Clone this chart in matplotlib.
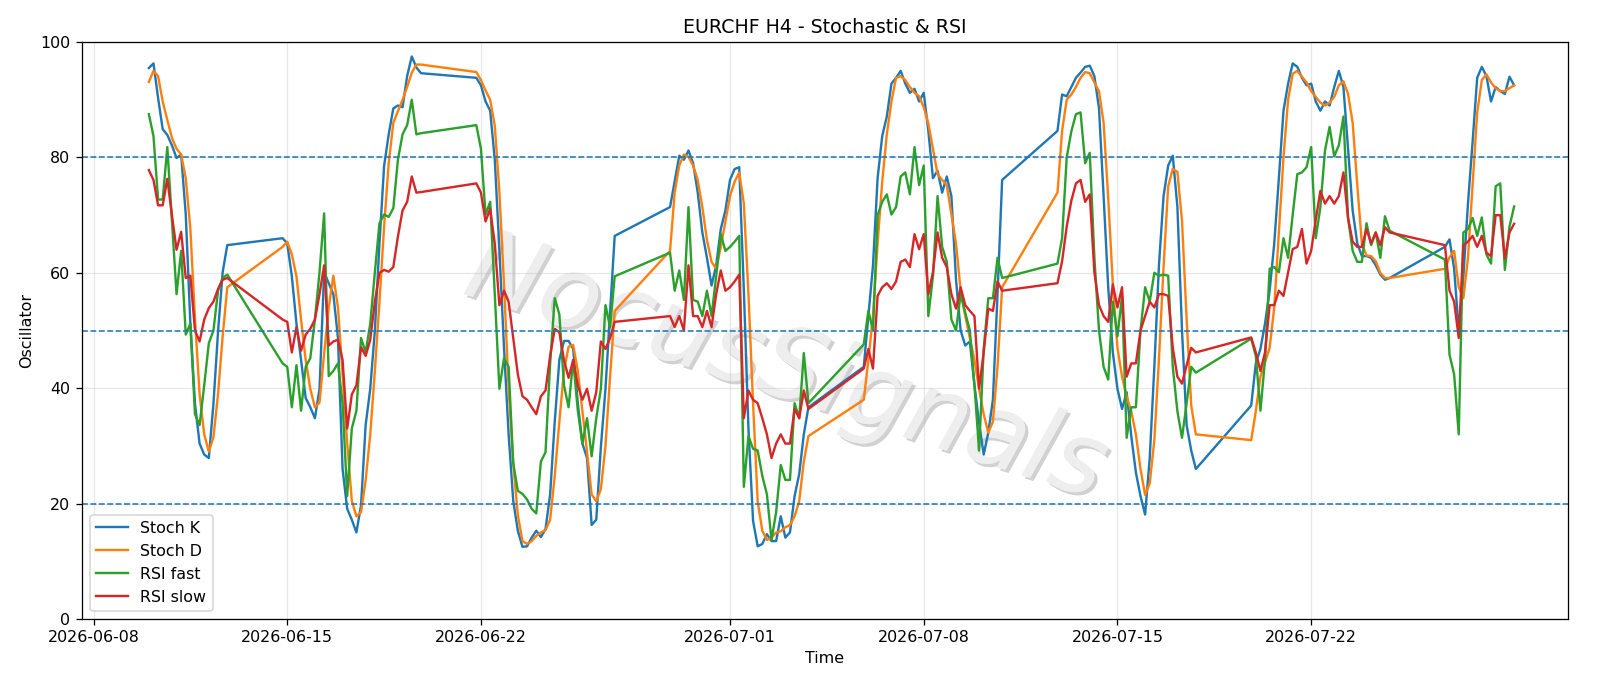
import numpy as np
import pandas as pd
import matplotlib
matplotlib.use("Agg")
import matplotlib.pyplot as plt
import matplotlib.patheffects as pe

# ---- data -----------------------------------------------------------
start_bar = "2026-06-10 00:00"
end_bar = "2026-07-29 08:00"

stoch_k = [
    95.5, 96.3, 90.3, 84.9, 83.9, 82.1,   # 06-10
    79.9, 80.5, 70.1, 51.2, 37.3, 30.4,   # 06-11
    28.5, 27.9, 37.3, 49.8, 60.1, 64.8,   # 06-12
    66.0,                                 # 06-14 20h
    65.1, 59.4, 51.2, 44.9, 38.3, 36.7,   # 06-15
    34.8, 39.9, 60.1, 58.2, 56.3, 48.7,   # 06-16
    26.0, 19.1, 17.2, 15.0, 19.7, 33.6,   # 06-17
    39.9, 50.0, 65.1, 78.5, 84.0, 88.5,   # 06-18
    89.0, 88.7, 94.1, 97.5, 95.6, 94.6,   # 06-19
    93.8,                                 # 06-21 20h
    92.5, 89.7, 88.1, 79.6, 64.0, 47.0,   # 06-22
    32.0, 20.5, 15.3, 12.5, 12.6, 14.1,   # 06-23
    15.3, 14.2, 15.6, 21.6, 34.2, 44.9,   # 06-24
    48.2, 48.2, 46.8, 37.4, 30.4, 27.9,   # 06-25
    16.3, 17.2, 29.8, 39.9, 53.1, 66.4,   # 06-26
    71.4,                                 # 06-28 20h
    75.8, 80.3, 79.6, 81.2, 79.0, 73.9,   # 06-29
    67.0, 62.6, 57.8, 61.3, 67.6, 70.8,   # 06-30
    76.1, 78.0, 78.3, 57.0, 33.0, 17.0,   # 07-01
    12.6, 13.0, 14.7, 13.5, 13.5, 17.8,   # 07-02
    14.1, 15.0, 21.3, 25.1, 32.0, 36.7,   # 07-03
    43.7,                                 # 07-05 20h
    52.5, 61.3, 76.4, 83.7, 87.1, 92.8,   # 07-06
    93.8, 95.0, 92.8, 91.2, 91.9, 89.7,   # 07-07
    91.2, 84.6, 76.4, 77.7, 73.9, 76.7,   # 07-08
    73.3, 58.8, 50.0, 47.4, 48.1, 40.5,   # 07-09
    34.0, 28.5, 32.3, 38.0, 56.3, 76.1,   # 07-10
    84.6,                                 # 07-12 20h
    90.9, 90.6, 92.2, 93.8, 94.7, 95.7,   # 07-13
    95.9, 94.1, 88.5, 73.3, 57.5, 46.2,   # 07-14
    39.9, 36.4, 39.3, 31.7, 25.4, 21.3,   # 07-15
    18.1, 27.9, 43.7, 61.3, 73.3, 78.6,   # 07-16
    80.3, 71.4, 50.0, 33.6, 29.2, 26.0,   # 07-17
    37.0,                                 # 07-19 20h
    44.3, 46.8, 51.2, 56.9, 65.1, 76.4,   # 07-20
    88.1, 92.8, 96.3, 95.7, 93.8, 92.5,   # 07-21
    92.8, 89.7, 88.1, 89.7, 89.0, 92.2,   # 07-22
    95.0, 92.2, 81.5, 70.8, 65.1, 62.9,   # 07-23
    62.9, 62.6, 61.3, 59.7, 58.8, 59.1,   # 07-24
    64.5,                                 # 07-26 20h
    65.8, 60.7, 50.0, 59.4, 72.0, 82.7,   # 07-27
    93.8, 95.7, 94.1, 89.7, 92.2, 91.5,   # 07-28
    91.0, 94.0, 92.5,                     # 07-29
]

stoch_d = [
    93.1, 95.0, 94.1, 89.7, 86.5, 83.4,
    81.5, 80.5, 76.4, 67.6, 52.0, 39.0,
    32.0, 29.0, 31.5, 39.0, 49.0, 57.5,
    64.5,
    65.4, 63.2, 59.4, 51.9, 44.9, 39.9,
    36.7, 37.5, 46.0, 54.0, 59.5, 54.0,
    42.5, 30.5, 20.5, 17.8, 18.5, 24.0,
    32.0, 43.0, 55.0, 68.0, 79.0, 86.0,
    88.0, 90.0, 92.2, 94.7, 96.1, 96.1,
    94.8,
    93.4, 91.6, 90.0, 85.5, 74.0, 58.0,
    40.0, 27.0, 18.0, 13.5, 13.0, 13.5,
    14.4, 15.0, 15.4, 17.2, 24.8, 34.2,
    43.0, 47.2, 47.5, 43.0, 36.0, 29.0,
    21.6, 20.4, 22.5, 30.0, 42.0, 53.4,
    63.8,
    73.9, 78.6, 80.5, 80.1, 78.6, 76.1,
    71.4, 65.7, 61.9, 60.7, 64.5, 68.9,
    73.3, 75.8, 77.4, 72.0, 56.3, 37.4,
    20.4, 15.3, 13.7, 14.1, 15.0, 15.2,
    15.9, 16.3, 17.8, 20.4, 27.3, 31.7,
    38.0,
    44.9, 52.5, 65.1, 75.8, 84.0, 89.7,
    93.8, 94.1, 93.4, 92.2, 91.2, 90.6,
    88.7, 85.9, 81.5, 77.1, 76.1, 75.2,
    70.1, 65.1, 56.9, 52.5, 48.7, 44.9,
    39.9, 35.5, 32.3, 34.2, 43.7, 57.5,
    73.9,
    84.6, 90.0, 90.9, 92.2, 93.8, 94.8,
    94.6, 93.0, 91.5, 86.0, 73.0, 58.0,
    47.0, 42.0, 38.5, 36.0, 32.0, 26.0,
    21.5, 23.5, 31.0, 45.0, 61.0, 75.0,
    78.0, 77.5, 69.0, 52.0, 37.0, 32.0,
    31.0,
    36.0, 42.0, 44.5, 47.0, 54.0, 67.0,
    80.0, 90.0, 94.5, 95.0, 94.0, 93.0,
    91.5, 90.5, 89.5, 89.0, 89.5, 90.5,
    92.5, 93.2, 91.0, 86.0, 75.2, 65.0,
    63.0, 62.9, 62.0, 60.0, 59.1, 59.1,
    60.7,
    62.7, 63.8, 57.5, 55.6, 62.6, 75.2,
    87.8, 93.4, 94.4, 93.0, 92.0, 91.5,
    91.5, 92.0, 92.5,
]

rsi_fast = [
    87.5, 83.7, 72.7, 72.7, 81.8, 69.0,
    56.3, 63.8, 49.3, 51.2, 35.5, 33.6,
    40.5, 47.8, 50.0, 56.9, 59.1, 59.7,
    44.3,
    43.7, 36.7, 44.0, 36.1, 43.7, 45.2,
    51.9, 60.1, 70.3, 42.1, 43.0, 44.3,
    37.4, 21.3, 33.0, 36.1, 48.7, 46.2,
    51.2, 60.1, 68.6, 70.1, 69.7, 71.2,
    79.6, 84.0, 85.6, 90.0, 84.0, 84.2,
    85.6,
    81.5, 70.1, 72.3, 56.3, 39.9, 45.2,
    43.7, 27.0, 22.2, 21.7, 20.7, 19.1,
    18.3, 27.3, 28.9, 44.3, 55.6, 52.8,
    40.5, 36.7, 44.9, 36.1, 30.4, 34.8,
    28.2, 34.8, 39.9, 54.4, 50.6, 59.4,
    63.5,
    56.9, 60.4, 55.3, 71.4, 55.3, 55.0,
    52.5, 56.9, 52.5, 59.4, 66.7, 63.8,
    64.5, 65.4, 66.4, 22.9, 31.7, 29.5,
    29.2, 24.8, 21.6, 13.7, 18.5, 26.7,
    24.1, 24.1, 37.4, 34.8, 46.1, 37.4,
    47.6,
    53.4, 50.0, 70.0, 72.3, 73.6, 70.1,
    71.4, 76.7, 77.4, 73.6, 81.8, 75.2,
    78.6, 52.5, 59.4, 73.3, 64.5, 61.9,
    51.9, 50.0, 56.3, 53.1, 50.0, 40.5,
    29.2, 46.8, 55.6, 55.6, 62.6, 59.1,
    61.6,
    66.0, 80.0, 84.5, 87.5, 87.8, 79.0,
    80.8, 62.6, 50.0, 43.7, 41.5, 55.0,
    49.0, 56.0, 31.4, 36.7, 36.7, 50.0,
    57.5, 55.0, 60.0, 59.5, 59.7, 59.5,
    43.7, 36.0, 31.4, 37.4, 43.7, 42.7,
    48.6,
    45.6, 36.1, 44.9, 60.7, 61.0, 60.1,
    66.0, 62.6, 70.1, 77.1, 77.4, 78.3,
    81.8, 66.0, 71.4, 81.2, 85.3, 80.2,
    82.1, 87.1, 69.5, 63.8, 61.9, 61.9,
    68.6, 64.8, 67.0, 62.6, 69.8, 67.3,
    62.3,
    45.8, 42.4, 32.0, 67.0, 67.6, 69.5,
    66.4, 69.6, 63.2, 61.6, 75.0, 75.5,
    60.5, 68.0, 71.5,
]

rsi_slow = [
    77.8, 76.1, 71.7, 71.7, 76.3, 70.0,
    64.0, 67.1, 59.1, 59.5, 50.0, 48.1,
    51.9, 53.9, 55.0, 57.2, 58.8, 59.1,
    51.9,
    51.5, 46.2, 50.6, 46.5, 49.3, 50.3,
    51.9, 56.3, 61.3, 47.4, 48.1, 48.4,
    44.9, 33.0, 38.9, 40.5, 47.1, 45.6,
    48.4, 55.0, 60.0, 60.5, 60.2, 61.0,
    66.3, 70.8, 72.3, 76.7, 73.9, 74.0,
    75.5,
    73.9, 68.9, 71.1, 65.0, 54.4, 56.9,
    55.0, 48.7, 42.4, 38.6, 38.0, 36.7,
    35.5, 38.6, 39.6, 45.6, 50.3, 49.7,
    44.9, 41.8, 44.9, 40.5, 38.0, 39.9,
    36.1, 39.3, 48.1, 46.8, 48.7, 51.5,
    52.5,
    50.6, 52.5, 50.0, 61.3, 52.5, 52.5,
    50.6, 53.4, 50.6, 56.3, 60.4, 56.9,
    57.5, 58.5, 59.7, 34.8, 39.6, 38.0,
    37.4, 34.8, 32.0, 27.9, 30.4, 32.0,
    30.4, 30.4, 36.4, 34.8, 39.6, 36.4,
    43.4,
    46.8, 43.4, 56.0, 57.5, 58.2, 57.2,
    58.5, 61.9, 62.3, 61.0, 66.7, 64.1,
    66.7, 56.3, 60.1, 67.0, 62.6, 61.0,
    56.3, 53.8, 57.5, 54.4, 53.4, 52.5,
    39.9, 46.2, 53.8, 53.4, 58.5, 56.9,
    58.2,
    62.0, 68.0, 72.5, 75.5, 76.1, 72.3,
    73.6, 60.1, 54.4, 52.5, 51.5, 58.0,
    54.0, 57.5, 42.0, 44.3, 44.3, 50.0,
    52.5, 55.0, 54.0, 56.3, 56.3, 56.0,
    47.0, 42.0, 40.8, 44.0, 47.0, 46.2,
    48.8,
    46.2, 43.0, 46.2, 54.4, 54.4, 56.9,
    56.0, 60.1, 64.1, 64.5, 67.6, 61.6,
    63.8, 69.2, 74.2, 72.0, 73.3, 72.0,
    73.3, 77.4, 69.5, 65.4, 64.5, 64.5,
    67.6, 65.1, 67.0, 64.8, 67.9, 67.0,
    64.8,
    56.9, 55.0, 48.7, 64.8, 65.4, 66.4,
    64.5, 66.4, 63.5, 62.9, 70.0, 70.0,
    62.5, 67.0, 68.5,
]

levels = [20, 50, 80]
title = "EURCHF H4 - Stochastic & RSI"
watermark = "NocusSignals"

# ---- time index: 4h bars, weekdays plus the Sunday 20:00 bar ----------
bars = pd.date_range(start_bar, end_bar, freq="4h")
bars = bars[(bars.dayofweek < 5) | ((bars.dayofweek == 6) & (bars.hour == 20))]

df = pd.DataFrame({"Stoch K": stoch_k, "Stoch D": stoch_d,
                   "RSI fast": rsi_fast, "RSI slow": rsi_slow}, index=bars)

DPI = 1600 / 14
fig = plt.figure(figsize=(14, 686 / DPI), dpi=DPI)
ax = fig.add_axes([0.051, 0.0977, 0.929, 0.841])

for col in df.columns:
    ax.plot(df.index, df[col], label=col)

for lv in levels:
    ax.axhline(lv, linestyle="--", linewidth=1.0, color="C0")

ax.set_xlim(pd.Timestamp("2026-06-07 13:40"), pd.Timestamp("2026-07-31 06:45"))
ax.set_ylim(0, 100)
ax.grid(True, alpha=0.3)
ax.set_title(title)
ax.set_xlabel("Time")
ax.set_ylabel("Oscillator")
ax.legend(loc="lower left")

ax.text(0.474, 0.432, watermark, transform=ax.transAxes, fontsize=63,
        style="italic", color="#eeeeee", rotation=-18,
        ha="center", va="center", zorder=0,
        path_effects=[pe.withSimplePatchShadow(offset=(2, -2),
                                               shadow_rgbFace="#999999",
                                               alpha=0.45), pe.Normal()])

fig.savefig("out.png", dpi=DPI)
